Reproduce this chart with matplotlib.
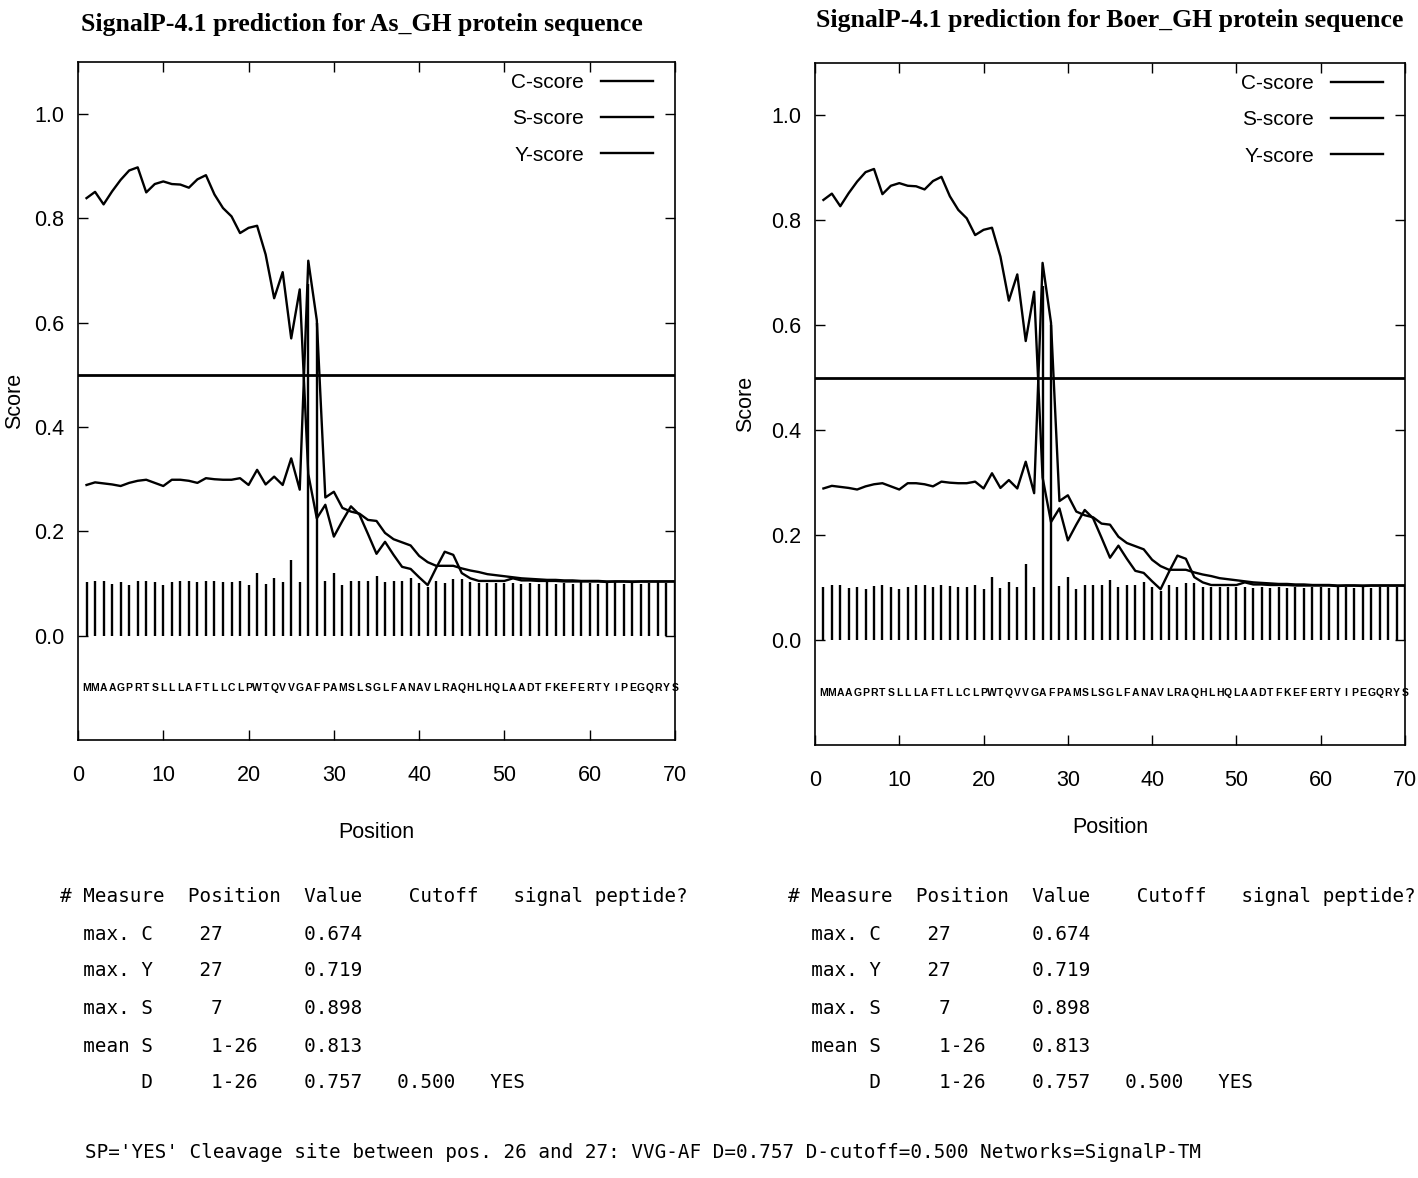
import matplotlib
matplotlib.use("Agg")
import matplotlib.pyplot as plt
from matplotlib.lines import Line2D
import numpy as np

# ---- data ----
sequence = "MMAAGPRTSLLLAFTLLCLPWTQVVGAFPAMSLSGLFANAVLRAQHLHQLAADTFKEFERTYIPEGQRYS"
positions = np.arange(1, 71)

c_score = [0.102, 0.105, 0.105, 0.100, 0.102, 0.098, 0.104, 0.105, 0.102, 0.098,
           0.102, 0.105, 0.105, 0.102, 0.105, 0.104, 0.102, 0.102, 0.105, 0.098,
           0.120, 0.100, 0.111, 0.102, 0.145, 0.102, 0.674, 0.600, 0.104, 0.120,
           0.098, 0.105, 0.105, 0.105, 0.115, 0.102, 0.105, 0.105, 0.110, 0.101,
           0.094, 0.105, 0.101, 0.109, 0.109, 0.102, 0.101, 0.101, 0.101, 0.101,
           0.101, 0.099, 0.101, 0.100, 0.102, 0.100, 0.101, 0.100, 0.102, 0.101,
           0.100, 0.101, 0.102, 0.100, 0.101, 0.100, 0.101, 0.102, 0.101, 0.103]

s_score = [0.839, 0.851, 0.827, 0.852, 0.874, 0.892, 0.898, 0.850, 0.866, 0.871,
           0.866, 0.865, 0.859, 0.875, 0.883, 0.846, 0.820, 0.804, 0.772, 0.782,
           0.786, 0.731, 0.647, 0.697, 0.570, 0.664, 0.310, 0.225, 0.251, 0.190,
           0.220, 0.248, 0.232, 0.195, 0.157, 0.180, 0.155, 0.132, 0.128, 0.112,
           0.097, 0.130, 0.161, 0.155, 0.120, 0.110, 0.105, 0.105, 0.105, 0.105,
           0.110, 0.106, 0.106, 0.105, 0.105, 0.105, 0.104, 0.104, 0.104, 0.104,
           0.104, 0.103, 0.104, 0.104, 0.103, 0.104, 0.104, 0.104, 0.104, 0.104]

y_score = [0.289, 0.294, 0.292, 0.290, 0.287, 0.293, 0.297, 0.299, 0.293, 0.287,
           0.299, 0.299, 0.297, 0.293, 0.302, 0.300, 0.299, 0.299, 0.302, 0.289,
           0.318, 0.290, 0.305, 0.289, 0.340, 0.280, 0.719, 0.605, 0.265, 0.276,
           0.245, 0.238, 0.234, 0.222, 0.220, 0.197, 0.185, 0.179, 0.173, 0.153,
           0.141, 0.134, 0.134, 0.134, 0.129, 0.125, 0.122, 0.118, 0.116, 0.114,
           0.112, 0.110, 0.109, 0.108, 0.107, 0.107, 0.106, 0.106, 0.105, 0.105,
           0.105, 0.104, 0.104, 0.104, 0.104, 0.104, 0.104, 0.104, 0.104, 0.104]

d_cutoff = 0.5
titles = ["SignalP-4.1 prediction for As_GH protein sequence",
          "SignalP-4.1 prediction for Boer_GH protein sequence"]

table_rows = [
    "# Measure  Position  Value    Cutoff   signal peptide?",
    "  max. C    27       0.674",
    "  max. Y    27       0.719",
    "  max. S     7       0.898",
    "  mean S     1-26    0.813",
    "       D     1-26    0.757   0.500   YES",
]
summary = "SP='YES' Cleavage site between pos. 26 and 27: VVG-AF D=0.757 D-cutoff=0.500 Networks=SignalP-TM"

SANS = ["Liberation Sans Narrow", "Liberation Sans", "DejaVu Sans"]
W, H = 1418, 1178
fig = plt.figure(figsize=(W / 100, H / 100), dpi=100)


def fx(px):
    return px / W


def fy(py):
    return 1 - py / H


# axes boxes in pixels: left, top, right, bottom
boxes = [(78, 62, 675, 740), (815, 63, 1405, 745)]
title_pos = [(362, 24), (1110, 20)]
xlabel_pad = [26, 19]
ylabel_right = [25, 756]

for k, (l, t, r, b) in enumerate(boxes):
    ax = fig.add_axes([fx(l), fy(b), fx(r - l), (b - t) / H])
    ax.vlines(positions, 0, c_score, colors="black", lw=1.7, label="C-score")
    ax.plot(positions, s_score, color="black", lw=1.7, label="S-score")
    ax.plot(positions, y_score, color="black", lw=1.7, label="Y-score")
    ax.axhline(d_cutoff, color="black", lw=2.0)
    for i, ch in zip(positions, sequence):
        ax.text(i, -0.1, ch, ha="center", va="center", fontsize=7.5,
                fontweight="bold", family=SANS)

    ax.set_xlim(0, 70)
    ax.set_ylim(-0.2, 1.1)
    ax.set_xticks(range(0, 71, 10))
    ax.set_yticks([0.0, 0.2, 0.4, 0.6, 0.8, 1.0])
    ax.set_yticklabels(["0.0", "0.2", "0.4", "0.6", "0.8", "1.0"])
    ax.tick_params(direction="in", length=7, width=1, top=True, right=True,
                   labelsize=15.5)
    ax.tick_params(axis="x", pad=18)
    ax.tick_params(axis="y", pad=10)
    for lab in ax.get_xticklabels() + ax.get_yticklabels():
        lab.set_family(SANS)
    for sp in ax.spines.values():
        sp.set_linewidth(1.2)

    ax.set_xlabel("Position", fontsize=15.5, family=SANS, labelpad=xlabel_pad[k])
    ax.set_ylabel("Score", fontsize=15.5, family="Liberation Sans")
    ax.yaxis.set_label_coords((ylabel_right[k] - l) / (r - l), 0.5)

    handles = [Line2D([], [], color="black", lw=1.7) for _ in range(3)]
    ax.legend(handles, ["C-score", "S-score", "Y-score"], loc="upper right",
              bbox_to_anchor=(1 - 22 / (r - l), 1 - 11 / (b - t)),
              frameon=False, markerfirst=False, borderaxespad=0, borderpad=0,
              handlelength=2.5, handletextpad=0.8, labelspacing=0.83,
              prop={"family": SANS, "size": 15})

    tx, ty = title_pos[k]
    fig.text(fx(tx), fy(ty), titles[k], ha="center", va="center",
             fontsize=18.5, fontweight="bold", family="Liberation Serif")

# results tables
row_y = [897, 935, 970, 1008, 1046, 1083]
for x0 in (60, 788):
    for row, yy in zip(table_rows, row_y):
        fig.text(fx(x0), fy(yy), row, ha="left", va="center",
                 fontsize=13.9, family="DejaVu Sans Mono")

fig.text(fx(85), fy(1152), summary, ha="left", va="center",
         fontsize=13.9, family="DejaVu Sans Mono")

fig.savefig("out.png", dpi=100, facecolor="white")
